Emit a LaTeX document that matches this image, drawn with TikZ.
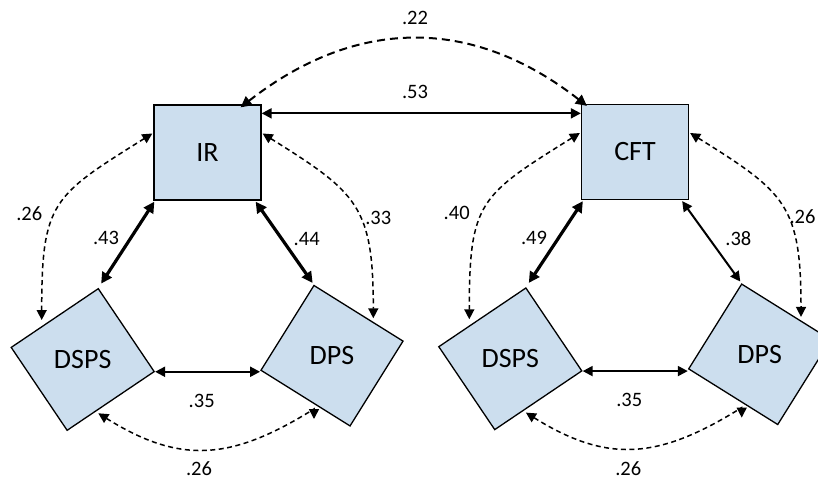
\documentclass[tikz,border=0pt]{standalone}
\usepackage{fontspec}
\setmainfont{Carlito}
\usetikzlibrary{arrows.meta,calc}
\definecolor{boxfill}{RGB}{204,222,238}
\tikzset{
  box/.style={draw=black,line width=1.3pt,fill=boxfill,minimum width=107pt,minimum height=95pt,inner sep=0pt,font=\fontsize{28}{32}\selectfont},
  rbox/.style={draw=black,line width=1.3pt,fill=boxfill,minimum width=105pt,minimum height=100pt,inner sep=0pt},
  boxtext/.style={inner sep=0pt,font=\fontsize{28}{32}\selectfont},
  lab/.style={inner sep=0pt,font=\fontsize{20.5}{24}\selectfont},
  thickarrow/.style={line width=3.2pt,{Triangle[length=11pt,width=11pt]}-{Triangle[length=11pt,width=11pt]}},
  medarrow/.style={line width=2pt,{Triangle[length=10pt,width=10pt]}-{Triangle[length=10pt,width=10pt]}},
  dasharrow/.style={line width=1.5pt,dash pattern=on 5pt off 3.5pt,{Triangle[length=10pt,width=10pt]}-{Triangle[length=10pt,width=10pt]}},
  bigdash/.style={line width=2pt,dash pattern=on 8pt off 5pt,{Triangle[length=11pt,width=11pt]}-{Triangle[length=11pt,width=11pt]}},
}
\begin{document}
\begin{tikzpicture}[x=1pt,y=1pt]
\useasboundingbox (0,0) rectangle (818,-481);
\clip (0,0) rectangle (818,-481);

% ---------- left panel ----------
\node[box] (IR) at (207.5,-152.5) {IR};
\node[rbox,rotate=34] (DSPSa) at (82.7,-359.5) {};
\node[boxtext] (DSPSat) at (DSPSa.center) {DSPS};
\node[rbox,rotate=-32] (DPSa) at (332,-355.7) {};
\node[boxtext] (DPSat) at (DPSa.center) {DPS};

% ---------- right panel ----------
\node[box] (CFT) at (635,-152) {CFT};
\node[rbox,rotate=34] (DSPSb) at (510.3,-358.8) {};
\node[boxtext] (DSPSbt) at (DSPSb.center) {DSPS};
\node[rbox,rotate=-32] (DPSb) at (759.7,-354.3) {};
\node[boxtext] (DPSbt) at (DPSb.center) {DPS};

% ---------- between panels ----------
\draw[medarrow] ([yshift=-9pt]IR.north east) -- ([yshift=-9pt]IR.north east -| CFT.west);
\draw[bigdash] ([xshift=-21pt,yshift=-3pt]IR.north east) .. controls +(38:146) and +(142:146) .. ([xshift=6pt,yshift=-2pt]CFT.north west);
\node[lab] (l53) at (415,-91.7) {.53};
\node[lab] (l22) at (415,-18.3) {.22};

% ---------- left panel connectors ----------
\draw[thickarrow,shorten >=5pt] ([xshift=1pt,yshift=-1pt]IR.south west) -- (DSPSa.north east);
\draw[thickarrow,shorten >=2pt] ([xshift=-6pt,yshift=-1pt]IR.south east) -- (DPSa.north west);
\draw[medarrow] (DSPSa.south east) -- (DSPSa.south east -| DPSa.south west);
\draw[dasharrow] ([xshift=-1pt,yshift=19pt]IR.west) .. controls +(212:118) and +(90:118) .. ($(DSPSa.center)+(-41,39.5)$);
\draw[dasharrow] ([xshift=1pt,yshift=19pt]IR.east) .. controls +(-32:112) and +(90:112) .. ($(DPSa.center)+(41.3,37.4)$);
\draw[dasharrow] ($(DSPSa.center)+(15.6,-53.8)$) .. controls +(-32:97) and +(212:97) .. ($(DPSa.center)+(-18,-53.3)$) -- ($(DPSa.center)+(-18,-63.3)$);

\node[lab] (l26a) at (29.3,-214) {.26};
\node[lab] (l43) at (106,-238.3) {.43};
\node[lab] (l44) at (306.7,-239.3) {.44};
\node[lab] (l33) at (378.3,-218.3) {.33};
\node[lab] (l35a) at (201.7,-400.7) {.35};
\node[lab] (l26b) at (199,-468.5) {.26};

% ---------- right panel connectors ----------
\draw[thickarrow,shorten >=5pt] ([xshift=2pt,yshift=-1pt]CFT.south west) -- (DSPSb.north east);
\draw[medarrow,shorten >=2pt] ([xshift=-7pt,yshift=-1pt]CFT.south east) -- (DPSb.north west);
\draw[medarrow] (DSPSb.south east) -- (DSPSb.south east -| DPSb.south west);
\draw[dasharrow] ([xshift=-1pt,yshift=19pt]CFT.west) .. controls +(212:118) and +(90:118) .. ($(DSPSb.center)+(-41,39.5)$);
\draw[dasharrow] ([xshift=1pt,yshift=19pt]CFT.east) .. controls +(-32:112) and +(90:112) .. ($(DPSb.center)+(41.3,37.4)$);
\draw[dasharrow] ($(DSPSb.center)+(15.6,-53.8)$) .. controls +(-32:97) and +(212:97) .. ($(DPSb.center)+(-18,-53.3)$) -- ($(DPSb.center)+(-18,-63.3)$);

\node[lab] (l40) at (456.7,-212.7) {.40};
\node[lab] (l49) at (534,-237.7) {.49};
\node[lab] (l38) at (738.3,-238.3) {.38};
\node[lab] (l26c) at (802.5,-216.7) {.26};
\node[lab] (l35b) at (629.3,-400) {.35};
\node[lab] (l26d) at (628.3,-468.5) {.26};
\end{tikzpicture}
\end{document}
